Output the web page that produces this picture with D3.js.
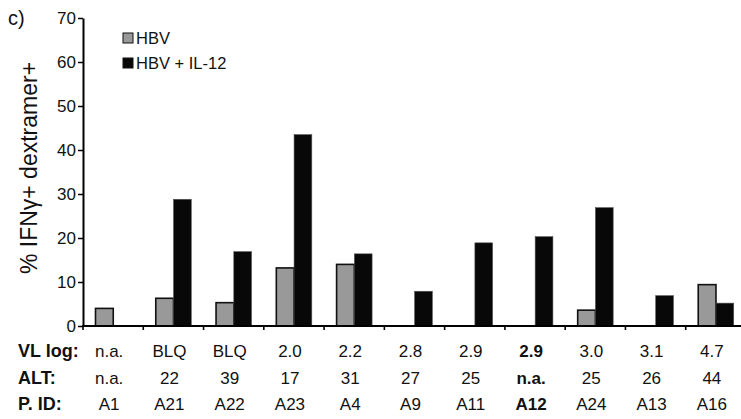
<!DOCTYPE html>
<html>
<head>
<meta charset="utf-8">
<script src="https://cdn.jsdelivr.net/npm/d3@7/dist/d3.min.js"></script>
<style>
  html, body { margin: 0; padding: 0; background: #fff; }
  svg { display: block; font-family: Arial, "Liberation Sans", sans-serif; }
</style>
</head>
<body>
<svg id="chart" width="741" height="419"></svg>
<script>
// ---- data ----
const patientIds = ["A1","A21","A22","A23","A4","A9","A11","A12","A24","A13","A16"];
const vlLog = ["n.a.","BLQ","BLQ","2.0","2.2","2.8","2.9","2.9","3.0","3.1","4.7"];
const alt = ["n.a.","22","39","17","31","27","25","n.a.","25","26","44"];
const hbv = [4.0, 6.3, 5.3, 13.2, 14.0, null, null, null, 3.6, null, 9.4];
const hbvIl12 = [null, 28.8, 16.9, 43.5, 16.4, 7.9, 18.9, 20.3, 26.9, 6.9, 5.2];
const seriesNames = ["HBV", "HBV + IL-12"];
const seriesColors = ["#999999", "#080808"];
const yTicks = [0, 10, 20, 30, 40, 50, 60, 70];
const boldPatient = "A12";
const rowLabels = ["VL log:", "ALT:", "P. ID:"];

// ---- layout ----
const svg = d3.select("#chart");
const x0 = 83, x1 = 746, yBottom = 326, yTop = 18;

const x = d3.scaleBand().domain(patientIds).range([x0, x1]).padding(0);
const xs = d3.scaleBand().domain(seriesNames).range([12.5, 48]).padding(0);
const y = d3.scaleLinear().domain([0, 70]).range([yBottom, yTop]);

// bars
const seriesData = [hbv, hbvIl12];
seriesNames.forEach((name, si) => {
  const rows = patientIds.map((id, i) => ({ id, v: seriesData[si][i] })).filter(d => d.v != null);
  svg.append("g").selectAll("rect").data(rows).join("rect")
    .attr("x", d => x(d.id) + xs(name))
    .attr("y", d => y(d.v))
    .attr("width", xs.bandwidth())
    .attr("height", d => y(0) - y(d.v))
    .attr("fill", seriesColors[si])
    .attr("stroke", si === 0 ? "#111" : "#555")
    .attr("stroke-width", si === 0 ? 1.6 : 0.6);
});

// y axis
const yAxis = svg.append("g")
  .attr("transform", `translate(${x0},0)`)
  .call(d3.axisLeft(y).tickValues(yTicks).tickSize(5).tickPadding(2).tickSizeOuter(0));
yAxis.select(".domain").attr("stroke", "#000").attr("stroke-width", 2);
yAxis.selectAll(".tick line").attr("stroke", "#000").attr("stroke-width", 1.5);
yAxis.selectAll(".tick text").attr("font-size", 17).attr("fill", "#111")
  .attr("font-family", "Arial, 'Liberation Sans', sans-serif");

// x axis line + ticks at band boundaries
svg.append("line").attr("x1", x0 - 1).attr("x2", 741).attr("y1", yBottom).attr("y2", yBottom)
  .attr("stroke", "#000").attr("stroke-width", 2);
svg.append("g").selectAll("line").data(patientIds).join("line")
  .attr("x1", d => x(d)).attr("x2", d => x(d))
  .attr("y1", yBottom).attr("y2", yBottom + 4)
  .attr("stroke", "#000").attr("stroke-width", 1.6);

// y label
svg.append("text")
  .attr("transform", `translate(37,168) rotate(-90)`)
  .attr("text-anchor", "middle")
  .attr("font-size", 23)
  .attr("fill", "#111")
  .text("% IFNγ+ dextramer+");

// panel letter
svg.append("text").attr("x", 8).attr("y", 25).attr("font-size", 20).attr("fill", "#111").text("c)");

// legend
const leg = svg.append("g");
seriesNames.forEach((name, i) => {
  const ly = 33 + i * 25;
  leg.append("rect").attr("x", 123).attr("y", ly).attr("width", 10).attr("height", 10)
    .attr("fill", seriesColors[i]).attr("stroke", "#111").attr("stroke-width", 1);
  leg.append("text").attr("x", 136).attr("y", ly + 11).attr("font-size", 16.5).attr("fill", "#111").text(name);
});

// table under the axis
const rowData = [vlLog, alt, patientIds];
const rowY = [357, 384, 410];
rowLabels.forEach((lab, r) => {
  svg.append("text").attr("x", 18).attr("y", rowY[r]).attr("font-size", 18)
    .attr("font-weight", "bold").attr("fill", "#111").text(lab);
  svg.append("g").selectAll("text").data(rowData[r].map((t, i) => ({ t, id: patientIds[i] }))).join("text")
    .attr("x", d => x(d.id) + x.bandwidth() / 2 - 4)
    .attr("y", rowY[r])
    .attr("text-anchor", "middle")
    .attr("font-size", 17)
    .attr("font-weight", d => d.id === boldPatient ? "bold" : "normal")
    .attr("fill", "#111")
    .text(d => d.t);
});
</script>
</body>
</html>
